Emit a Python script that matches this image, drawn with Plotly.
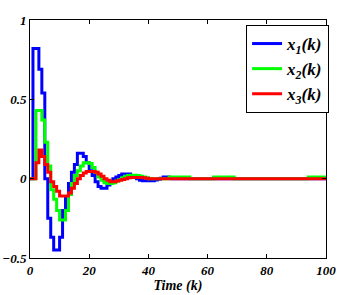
import plotly.graph_objects as go

k = list(range(0, 101))

x1 = [0, 0.82, 0.82, 0.69, 0.54, 0.0, -0.25, -0.37, -0.45, -0.45,
      -0.37, -0.2, -0.12, -0.03, 0.04, 0.09, 0.16, 0.16, 0.14, 0.1,
      0.05, 0.02, -0.02, -0.05, -0.06, -0.06, -0.04, -0.02, 0.0, 0.01,
      0.02, 0.03, 0.03, 0.03, 0.02, 0.01, 0.0, -0.01, -0.013, -0.013,
      -0.013, -0.013, -0.008, -0.003, 0.003, 0.01, 0.01, 0.005, 0, 0,
      0, 0, 0, 0, 0, 0, 0, 0, 0, 0,
      0, 0, 0, 0, 0, 0, 0, 0, 0, 0,
      0, 0, 0, 0, 0, 0, 0, 0, 0, 0,
      0, 0, 0, 0, 0, 0, 0, 0, 0, 0,
      0, 0, 0, 0, 0, 0, 0, 0, 0, 0,
      0]

x2 = [0, 0, 0.43, 0.43, 0.37, 0.23, 0.08, -0.07, -0.13, -0.2,
      -0.26, -0.26, -0.2, -0.1, -0.03, 0.02, 0.05, 0.08, 0.1, 0.1,
      0.095, 0.07, 0.04, 0.01, -0.01, -0.025, -0.03, -0.03, -0.025, -0.015,
      -0.005, 0.005, 0.015, 0.02, 0.022, 0.022, 0.02, 0.015, 0.01, 0.005,
      0, 0, 0, 0, 0, 0, 0, 0.01, 0.01, 0.01,
      0.01, 0.01, 0.01, 0.01, 0, 0, 0, 0, 0, 0,
      0, 0, 0.01, 0.01, 0.01, 0.01, 0.01, 0.01, 0.01, 0,
      0, 0, 0, 0, 0, 0, 0, 0, 0, 0,
      0, 0, 0, 0, 0, 0, 0, 0, 0, 0,
      0, 0, 0, 0, 0.01, 0.01, 0.01, 0.01, 0.01, 0.01,
      0.01]

x3 = [0, 0, 0.1, 0.18, 0.14, 0.09, 0.04, -0.02, -0.05, -0.08,
      -0.11, -0.11, -0.11, -0.09, -0.06, -0.03, 0.0, 0.02, 0.035, 0.045,
      0.045, 0.045, 0.04, 0.03, 0.015, 0.0, -0.01, -0.02, -0.02, -0.015,
      -0.01, -0.005, 0.0, 0.005, 0.008, 0.008, 0.008, 0.008, 0.005, 0.003,
      0, 0, 0, 0, 0, 0, 0, 0, 0, 0,
      0, 0, 0, 0, 0, 0, 0, 0, 0, 0,
      0, 0, 0, 0, 0, 0, 0, 0, 0, 0,
      0, 0, 0, 0, 0, 0, 0, 0, 0, 0,
      0, 0, 0, 0, 0, 0, 0, 0, 0, 0,
      0, 0, 0, 0, 0, 0, 0, 0, 0, 0,
      0]

series = [
    ("x<sub>1</sub>(k)", x1, "#0000FF"),
    ("x<sub>2</sub>(k)", x2, "#00FF00"),
    ("x<sub>3</sub>(k)", x3, "#FF0000"),
]

x_ticks = [0, 20, 40, 60, 80, 100]
y_ticks = [-0.5, 0, 0.5, 1]
y_ticktext = ["\u22120.5", "0", "0.5", "1"]

FONT = "Liberation Serif"

fig = go.Figure()
for name, vals, color in series:
    fig.add_trace(go.Scatter(
        x=k, y=vals, name=name, mode="lines",
        line=dict(color=color, width=3, shape="hv"),
    ))

axis_common = dict(
    showline=True, linecolor="black", linewidth=1, mirror="ticks",
    ticks="inside", ticklen=4, tickwidth=1, tickcolor="black",
    showgrid=False, zeroline=False, automargin=False,
    tickfont=dict(family=FONT, size=13, color="black", weight="bold", style="italic"),
)

fig.update_xaxes(
    range=[0, 100], tickvals=x_ticks, ticktext=[str(t) for t in x_ticks],
    title=dict(text="Time (k)", standoff=2,
               font=dict(family=FONT, size=14, color="black", weight="bold", style="italic")),
    **axis_common,
)
fig.update_yaxes(
    range=[-0.5, 1], tickvals=y_ticks, ticktext=y_ticktext,
    **axis_common,
)

fig.update_layout(
    width=343, height=295,
    margin=dict(l=30, r=17, t=20, b=37),
    paper_bgcolor="white", plot_bgcolor="white",
    showlegend=True,
    legend=dict(
        x=0.73, y=0.979, xanchor="left", yanchor="top",
        bgcolor="white", bordercolor="black", borderwidth=1,
        font=dict(family=FONT, size=17, color="black", weight="bold", style="italic"),
        itemwidth=30,
    ),
)

fig.write_html(
    "out.html",
    config={"displayModeBar": False},
    post_script="document.body.style.margin='0px';",
)
